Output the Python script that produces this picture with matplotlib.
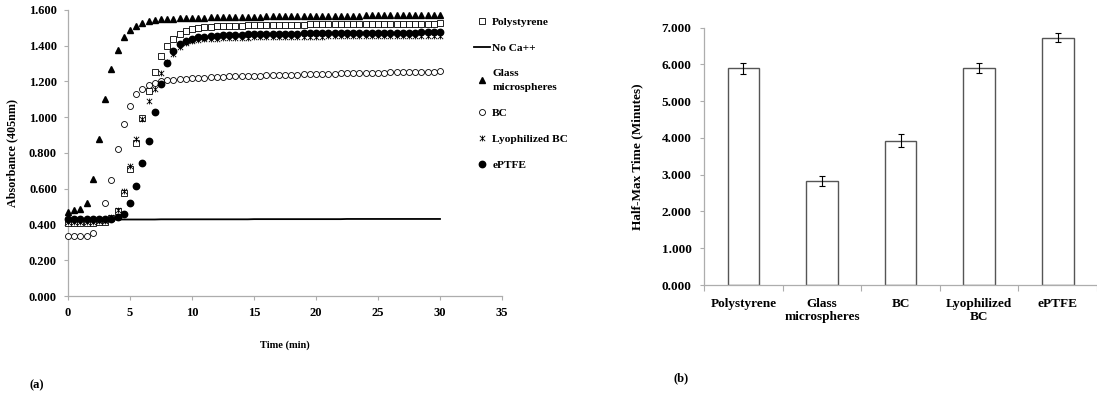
"""Clotting kinetics (a) and half-max time (b) on material surfaces."""
import numpy as np
import matplotlib
matplotlib.use("Agg")
import matplotlib.pyplot as plt
from matplotlib.path import Path
from matplotlib.ticker import FormatStrFormatter, MultipleLocator

plt.rcParams["font.family"] = "serif"
plt.rcParams["font.serif"] = ["Liberation Serif", "DejaVu Serif"]
plt.rcParams["font.weight"] = "bold"
plt.rcParams["axes.labelweight"] = "bold"

# ---- panel (a): absorbance vs time, one reading every 0.5 min ----
time_min = np.arange(61) * 0.5

polystyrene = [
    0.410, 0.410, 0.410, 0.411, 0.411, 0.412, 0.416, 0.435, 0.475, 0.578,
    0.712, 0.856, 0.997, 1.149, 1.255, 1.343, 1.400, 1.440, 1.466, 1.481,
    1.492, 1.499, 1.503, 1.506, 1.508, 1.510, 1.511, 1.512, 1.513, 1.514,
    1.515, 1.515, 1.516, 1.516, 1.517, 1.517, 1.518, 1.518, 1.518, 1.519,
    1.519, 1.519, 1.520, 1.520, 1.520, 1.521, 1.521, 1.521, 1.522, 1.522,
    1.522, 1.522, 1.523, 1.523, 1.523, 1.523, 1.524, 1.524, 1.524, 1.524,
    1.525,
]
no_ca = [
    0.428, 0.428, 0.428, 0.428, 0.428, 0.428, 0.428, 0.428, 0.428, 0.428,
    0.428, 0.428, 0.428, 0.428, 0.428, 0.429, 0.429, 0.429, 0.429, 0.429,
    0.429, 0.429, 0.429, 0.429, 0.429, 0.429, 0.429, 0.429, 0.429, 0.429,
    0.430, 0.430, 0.430, 0.430, 0.430, 0.430, 0.430, 0.430, 0.430, 0.430,
    0.430, 0.430, 0.430, 0.430, 0.430, 0.431, 0.431, 0.431, 0.431, 0.431,
    0.431, 0.431, 0.431, 0.431, 0.431, 0.431, 0.431, 0.431, 0.431, 0.431,
    0.431,
]
glass = [
    0.472, 0.481, 0.486, 0.521, 0.653, 0.878, 1.100, 1.272, 1.374, 1.447,
    1.488, 1.512, 1.528, 1.537, 1.543, 1.547, 1.550, 1.552, 1.554, 1.555,
    1.556, 1.557, 1.558, 1.559, 1.559, 1.560, 1.561, 1.561, 1.562, 1.562,
    1.563, 1.563, 1.564, 1.564, 1.565, 1.565, 1.566, 1.566, 1.566, 1.567,
    1.567, 1.567, 1.568, 1.568, 1.568, 1.569, 1.569, 1.569, 1.570, 1.570,
    1.570, 1.571, 1.571, 1.571, 1.572, 1.572, 1.572, 1.573, 1.573, 1.573,
    1.574,
]
bc = [
    0.336, 0.336, 0.336, 0.338, 0.352, np.nan, 0.520, 0.647, 0.820, 0.962,
    1.065, 1.128, 1.160, 1.178, 1.193, 1.201, 1.206, 1.210, 1.213, 1.216,
    1.218, 1.220, 1.222, 1.224, 1.225, 1.226, 1.228, 1.229, 1.230, 1.231,
    1.232, 1.233, 1.234, 1.235, 1.236, 1.237, 1.238, 1.239, 1.240, 1.240,
    1.241, 1.242, 1.243, 1.244, 1.245, 1.245, 1.246, 1.247, 1.248, 1.248,
    1.249, 1.250, 1.251, 1.251, 1.252, 1.253, 1.253, 1.254, 1.255, 1.255,
    1.256,
]
lyophilized = [
    0.415, 0.415, 0.415, 0.416, 0.416, 0.417, 0.420, 0.440, 0.482, 0.585,
    0.725, 0.880, 0.990, 1.093, 1.160, 1.250, 1.310, 1.352, 1.395, 1.415,
    1.425, 1.431, 1.435, 1.438, 1.440, 1.442, 1.443, 1.444, 1.445, 1.446,
    1.447, 1.447, 1.448, 1.448, 1.449, 1.449, 1.450, 1.450, 1.450, 1.451,
    1.451, 1.451, 1.452, 1.452, 1.452, 1.453, 1.453, 1.453, 1.453, 1.454,
    1.454, 1.454, 1.454, 1.455, 1.455, 1.455, 1.455, 1.456, 1.456, 1.456,
    1.456,
]
eptfe = [
    0.428, 0.428, 0.428, 0.428, 0.428, 0.429, 0.430, 0.433, 0.440, 0.457,
    0.520, 0.613, 0.742, 0.867, 1.029, 1.184, 1.302, 1.371, 1.410, 1.428,
    1.440, 1.447, 1.451, 1.454, 1.456, 1.458, 1.460, 1.461, 1.462, 1.463,
    1.464, 1.465, 1.465, 1.466, 1.467, 1.467, 1.468, 1.468, 1.469, 1.469,
    1.470, 1.470, 1.470, 1.471, 1.471, 1.471, 1.472, 1.472, 1.472, 1.473,
    1.473, 1.473, 1.473, 1.474, 1.474, 1.474, 1.474, 1.475, 1.475, 1.475,
    1.475,
]

# ---- panel (b): half-max time ----
materials = ["Polystyrene", "Glass\nmicrospheres", "BC", "Lyophilized\nBC", "ePTFE"]
half_max = [5.90, 2.83, 3.93, 5.91, 6.73]
half_max_err = [0.15, 0.13, 0.17, 0.14, 0.12]

SPINE = "#ADADAD"

# x plus a vertical bar, like the spreadsheet "star" marker
star = Path(
    [(-1, -1), (1, 1), (-1, 1), (1, -1), (0, -1.1), (0, 1.1)],
    [Path.MOVETO, Path.LINETO, Path.MOVETO, Path.LINETO, Path.MOVETO, Path.LINETO],
)

fig = plt.figure(figsize=(10.97, 4.03), dpi=100)
ax1 = fig.add_axes([0.062, 0.2655, 0.3956, 0.7097])
ax2 = fig.add_axes([0.6418, 0.2928, 0.3583, 0.6385])

open_kw = dict(ls="none", mfc="white", mec="black", mew=0.6, clip_on=False)
ax1.plot(time_min, polystyrene, marker="s", ms=4.3, label="Polystyrene", zorder=3, **open_kw)
ax1.plot(time_min, no_ca, color="black", lw=1.3, label="No Ca++", zorder=2)
ax1.plot(time_min, glass, marker="^", ms=4.7, ls="none", color="black",
         label="Glass\nmicrospheres", zorder=3, clip_on=False)
ax1.plot(time_min, bc, marker="o", ms=4.3, label="BC", zorder=3, **open_kw)
ax1.plot(time_min, lyophilized, marker=star, ms=4.2, ls="none", color="black",
         mew=0.6, label="Lyophilized BC", zorder=3, clip_on=False)
ax1.plot(time_min, eptfe, marker="o", ms=4.6, ls="none", color="black",
         label="ePTFE", zorder=4, clip_on=False)

ax1.set_xlim(0, 35)
ax1.set_ylim(0, 1.6)
ax1.xaxis.set_major_locator(MultipleLocator(5))
ax1.yaxis.set_major_locator(MultipleLocator(0.2))
ax1.yaxis.set_major_formatter(FormatStrFormatter("%.3f"))
ax1.set_xlabel("Time (min)", fontsize=7.5)
ax1.xaxis.set_label_coords(0.5, -0.155)
ax1.set_ylabel("Absorbance (405nm)", fontsize=8.7)
ax1.yaxis.set_label_coords(-0.115, 0.5)

handles, labels = ax1.get_legend_handles_labels()
leg = fig.legend(handles, labels, loc="upper left",
                 bbox_to_anchor=(474 / 1097, 1 - 17 / 403),
                 frameon=False, fontsize=8.2, handlelength=1.4, handletextpad=0.2,
                 labelspacing=1.42, borderpad=0, borderaxespad=0)
leg.get_texts()[2].set_linespacing(1.65)

ax2.bar(range(len(materials)), half_max, width=0.4, color="white",
        edgecolor="#555555", lw=1.0, zorder=2)
ax2.errorbar(range(len(materials)), half_max, yerr=half_max_err, fmt="none",
             ecolor="black", elinewidth=0.8, capsize=2, capthick=0.8, zorder=3)
ax2.set_xlim(-0.5, 4.5)
ax2.set_ylim(0, 7)
ax2.yaxis.set_major_locator(MultipleLocator(1))
ax2.yaxis.set_major_formatter(FormatStrFormatter("%.3f"))
ax2.set_xticks(range(len(materials)))
ax2.set_xticklabels(materials, fontsize=9.5)
ax2.set_xticks(np.arange(-0.5, 5, 1), minor=True)
ax2.tick_params(axis="x", which="major", length=0, pad=9)
ax2.tick_params(axis="x", which="minor", length=4, color=SPINE, width=0.8)
ax2.tick_params(axis="y", labelsize=9.5, pad=6)
ax2.set_ylabel("Half-Max Time (Minutes)", fontsize=9.5)
ax2.yaxis.set_label_coords(-0.155, 0.5)

for ax in (ax1, ax2):
    for side in ("top", "right"):
        ax.spines[side].set_visible(False)
    for side in ("left", "bottom"):
        ax.spines[side].set_color(SPINE)
        ax.spines[side].set_linewidth(0.9)
    ax.tick_params(which="major", color=SPINE, width=0.8, length=3)
ax2.tick_params(axis="x", which="major", length=0)
ax1.tick_params(labelsize=9, pad=5)

fig.text(37 / 1097, 1 - 385 / 403, "(a)", fontsize=9, ha="center", va="center")
fig.text(681 / 1097, 1 - 378 / 403, "(b)", fontsize=9, ha="center", va="center")

fig.savefig("out.png", dpi=100)
